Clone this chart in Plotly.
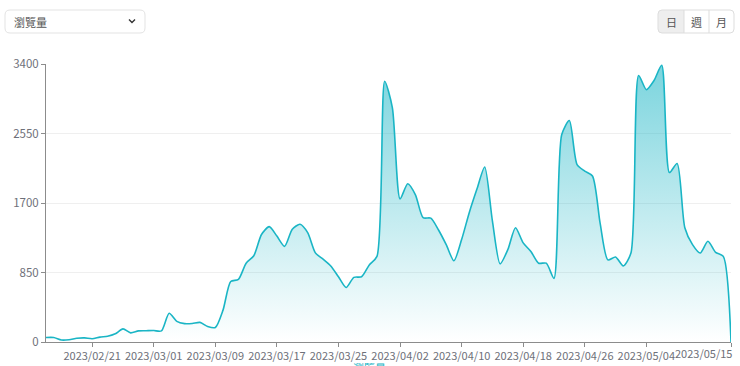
import plotly.graph_objects as go
import pandas as pd

# ---- data ----
start_date = "2023-02-15"
views = [55, 55, 25, 28, 45, 50, 40, 60, 70, 100,
         160, 112, 136, 138, 140, 136, 351, 252, 225, 227,
         240, 190, 178, 390, 740, 765, 964, 1055, 1315, 1411,
         1295, 1170, 1378, 1440, 1337, 1090, 1014, 930, 798, 666,
         790, 798, 943, 1047, 3189, 2867, 1750, 1936, 1800, 1520,
         1515, 1370, 1191, 993, 1253, 1585, 1874, 2140, 1480, 956,
         1129, 1398, 1212, 1108, 964, 964, 778, 2535, 2709, 2170,
         2090, 2030, 1450, 1005, 1039, 931, 1088, 3260, 3086, 3198,
         3384, 2072, 2184, 1398, 1191, 1088, 1232, 1096, 1047, 0]
dates = pd.date_range(start_date, periods=len(views), freq="D")
tick_dates = ["2023-02-21", "2023-03-01", "2023-03-09", "2023-03-17", "2023-03-25",
              "2023-04-02", "2023-04-10", "2023-04-18", "2023-04-26", "2023-05-04",
              "2023-05-15"]
tick_text = [d.replace("-", "/") for d in tick_dates]
y_ticks = [0, 850, 1700, 2550, 3400]
metric_label = "瀏覽量"
period_labels = ["日", "週", "月"]

# ---- geometry ----
W, H = 740, 366
L, R, T, B = 46, 9, 64, 24
PW, PH = W - L - R, H - T - B


def px(x):
    return (x - L) / PW


def py(y):
    return (H - B - y) / PH


def rounded_rect(x0, y0, x1, y1, r):
    pts = [
        f"M {px(x0 + r)} {py(y0)}",
        f"L {px(x1 - r)} {py(y0)}",
        f"Q {px(x1)} {py(y0)} {px(x1)} {py(y0 + r)}",
        f"L {px(x1)} {py(y1 - r)}",
        f"Q {px(x1)} {py(y1)} {px(x1 - r)} {py(y1)}",
        f"L {px(x0 + r)} {py(y1)}",
        f"Q {px(x0)} {py(y1)} {px(x0)} {py(y1 - r)}",
        f"L {px(x0)} {py(y0 + r)}",
        f"Q {px(x0)} {py(y0)} {px(x0 + r)} {py(y0)}",
        "Z",
    ]
    return " ".join(pts)


def left_rounded(x0, y0, x1, y1, r):
    pts = [
        f"M {px(x0 + r)} {py(y0)}",
        f"L {px(x1)} {py(y0)}",
        f"L {px(x1)} {py(y1)}",
        f"L {px(x0 + r)} {py(y1)}",
        f"Q {px(x0)} {py(y1)} {px(x0)} {py(y1 - r)}",
        f"L {px(x0)} {py(y0 + r)}",
        f"Q {px(x0)} {py(y0)} {px(x0 + r)} {py(y0)}",
        "Z",
    ]
    return " ".join(pts)


FONT = "Noto Sans CJK TC, Noto Sans, sans-serif"
TEAL = "#1ab5c5"
LABEL_COLOR = "#6e7079"

fig = go.Figure()
fig.add_trace(go.Scatter(
    x=dates, y=views, mode="lines",
    line=dict(color=TEAL, width=1.6, shape="spline", smoothing=0.7),
    fill="tozeroy",
    fillgradient=dict(type="vertical",
                      colorscale=[[0, "rgba(26,181,197,0.0)"], [1, "rgba(26,181,197,0.58)"]],
                      start=0, stop=3400),
    hoverinfo="skip", showlegend=False,
))

shapes = []
# dropdown box
shapes.append(dict(type="path", xref="paper", yref="paper", path=rounded_rect(5, 10, 145, 33, 5),
                   line=dict(color="#e3e3e3", width=1), fillcolor="white", layer="above"))
# chevron
shapes.append(dict(type="path", xref="paper", yref="paper",
                   path=f"M {px(129)} {py(19.5)} L {px(132)} {py(22.5)} L {px(135)} {py(19.5)}",
                   line=dict(color="#333333", width=1.4)))
# period buttons
shapes.append(dict(type="path", xref="paper", yref="paper", path=left_rounded(658, 10, 684, 33, 4),
                   line=dict(width=0), fillcolor="#eeeeee"))
shapes.append(dict(type="path", xref="paper", yref="paper", path=rounded_rect(658, 10, 734, 33, 4),
                   line=dict(color="#dddddd", width=1)))
for xd in (684, 709):
    shapes.append(dict(type="line", xref="paper", yref="paper", x0=px(xd), x1=px(xd),
                       y0=py(10), y1=py(33), line=dict(color="#dddddd", width=1)))

annotations = [
    dict(text=metric_label, x=px(12), y=py(21.5), xref="paper", yref="paper",
         xanchor="left", yanchor="middle", showarrow=False,
         font=dict(family=FONT, size=11, color="#555555")),
    dict(text=metric_label, x=px(369), y=py(358), xref="paper", yref="paper",
         xanchor="center", yanchor="top", showarrow=False,
         font=dict(family=FONT, size=11, color=TEAL)),
    # last x label is right-aligned to its tick (as in the reference)
    dict(text=tick_text[-1], x=tick_dates[-1], xref="x", y=py(352.5), yref="paper",
         xanchor="right", yanchor="middle", xshift=3, showarrow=False,
         font=dict(family=FONT, size=11, color=LABEL_COLOR)),
]
for lab, xc in zip(period_labels, (671, 696.5, 721.5)):
    annotations.append(dict(text=lab, x=px(xc), y=py(21.5), xref="paper", yref="paper",
                            xanchor="center", yanchor="middle", showarrow=False,
                            font=dict(family=FONT, size=11, color="#555555")))

axis_text = tick_text[:-1] + [""]

fig.update_layout(
    width=W, height=H,
    margin=dict(l=L, r=R, t=T, b=B, pad=0),
    paper_bgcolor="white", plot_bgcolor="white",
    font=dict(family=FONT, size=11, color=LABEL_COLOR),
    shapes=shapes, annotations=annotations,
    xaxis=dict(type="date", range=[dates[0], dates[-1]],
               tickvals=tick_dates, ticktext=axis_text, tickangle=0,
               ticklabeloverflow="allow",
               showgrid=False, zeroline=False,
               showline=True, linecolor="#8c8c8c", linewidth=1,
               ticks="outside", ticklen=4, tickcolor="#8c8c8c",
               tickfont=dict(family=FONT, size=11, color=LABEL_COLOR),
               automargin=False, fixedrange=True),
    yaxis=dict(range=[0, 3400], tickvals=y_ticks,
               showgrid=True, gridcolor="#efefef", gridwidth=1,
               zeroline=False, showline=True, linecolor="#8c8c8c", linewidth=1,
               ticks="outside", ticklen=4, tickcolor="#8c8c8c",
               tickfont=dict(family=FONT, size=11.5, color=LABEL_COLOR),
               automargin=False, fixedrange=True),
)

fig.write_html("out.html")
